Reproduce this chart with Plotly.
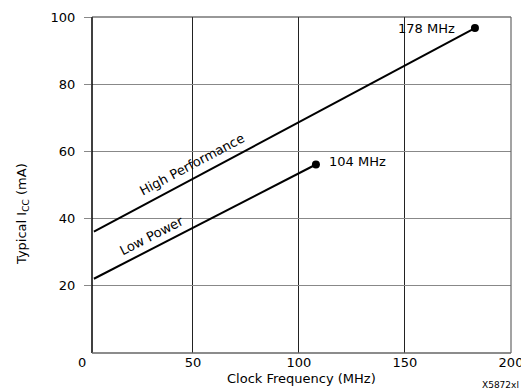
import plotly.graph_objects as go

# Data
hp_freq = [3.3, 183]
hp_icc = [36.1, 96.7]
lp_freq = [3.3, 108]
lp_icc = [22.1, 56.1]
x_ticks = [50, 100, 150, 200]
y_ticks = [20, 40, 60, 80, 100]

FONT = "DejaVu Sans"
OFF = 8  # page body margin offset

W, H = 529, 389
L, R, T, B = 92 - OFF, 511 - OFF, 17 - OFF, 353 - OFF

fig = go.Figure()
for xs, ys in [(hp_freq, hp_icc), (lp_freq, lp_icc)]:
    fig.add_trace(go.Scatter(x=xs, y=ys, mode="lines",
                             line=dict(color="black", width=2),
                             showlegend=False, hoverinfo="skip"))
    fig.add_trace(go.Scatter(x=xs[-1:], y=ys[-1:], mode="markers",
                             marker=dict(size=8, color="black"),
                             showlegend=False, hoverinfo="skip"))

fig.update_layout(
    width=W, height=H,
    margin=dict(l=L, r=W - R, t=T, b=H - B, autoexpand=False),
    paper_bgcolor="white", plot_bgcolor="white",
    font=dict(family=FONT, size=13, color="black"),
    xaxis=dict(range=[2.4, 200], tickvals=x_ticks, showgrid=True,
               gridcolor="#222", gridwidth=1, zeroline=False,
               showline=False, ticks="", tickfont=dict(size=13)),
    yaxis=dict(range=[0, 100], tickvals=y_ticks, showgrid=True,
               gridcolor="#888", gridwidth=1, zeroline=False,
               showline=False, ticks="outside", ticklen=7, tickcolor="#888",
               ticklabelstandoff=6, tickfont=dict(size=13)),
)

# Frame
fig.add_shape(type="line", xref="paper", yref="paper", x0=0, x1=0, y0=0, y1=1,
              line=dict(color="black", width=1.5))
fig.add_shape(type="line", xref="paper", yref="paper", x0=0, x1=1, y0=1, y1=1,
              line=dict(color="#333", width=1.2))
fig.add_shape(type="line", xref="paper", yref="paper", x0=1, x1=1, y0=0, y1=1,
              line=dict(color="#666", width=1.2))
fig.add_shape(type="line", xref="paper", yref="paper", x0=0, x1=1, y0=0, y1=0,
              line=dict(color="#666", width=1.5))

ann = [
    dict(text="High Performance", x=49.5, y=56.0, textangle=-28, font=dict(size=13)),
    dict(text="Low Power", x=30.7, y=34.9, textangle=-27, font=dict(size=13)),
    dict(text="178 MHz", x=160.0, y=96.7, font=dict(size=13)),
    dict(text="104 MHz", x=127.8, y=57.1, font=dict(size=13)),
]
for a in ann:
    fig.add_annotation(xref="x", yref="y", showarrow=False, **a)

def px(x, y):
    # page pixel -> paper coords
    x -= OFF
    y -= OFF
    return (x - L) / (R - L), (B - y) / (B - T)

for text, x, y, size, ang in [
    ("0", 82, 363, 13, 0),
    ("Clock Frequency (MHz)", 301, 378, 13, 0),
    ("Typical I<sub>CC</sub> (mA)", 22, 214, 13, -90),
    ("X5872xl", 500, 385, 9, 0),
]:
    xx, yy = px(x, y)
    fig.add_annotation(xref="paper", yref="paper", x=xx, y=yy, text=text,
                       showarrow=False, textangle=ang, font=dict(size=size),
                       xanchor="center", yanchor="middle")

fig.write_html("out.html")
